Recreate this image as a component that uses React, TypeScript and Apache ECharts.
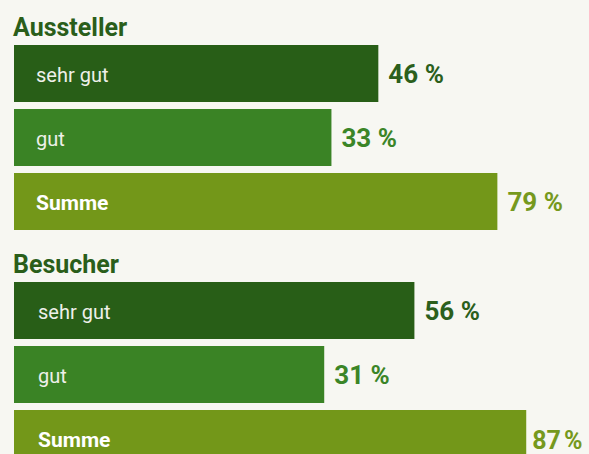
import React, { useEffect, useRef } from "react";
import * as echarts from "echarts";

// ---- data ----
const categories = ["sehr gut", "gut", "Summe"];
const groupTitles = ["Aussteller", "Besucher"];
const ausstellerValues = [46, 33, 79];
const besucherValues = [56, 31, 87];
const valueSuffix = " %";

// axis range: bars begin BASE_OFFSET units left of the zero point
const BASE_OFFSET = 55;
const X_MAX = 104.4;

// ---- styles ----
const BAR_COLORS = ["#285e17", "#3a8325", "#739719"];
const LABEL_COLORS = ["#2b5f1c", "#3b8527", "#76991d"];
const TITLE_COLOR = "#2a5e1a";
const BG = "#f7f7f2";
const BAR_HEIGHT = 57;
const FONT = "Roboto, 'Noto Sans', sans-serif";
const CHART_W = 589;
const CHART_H = 480; // taller than the window: the last bar is cut off like the reference

function makeSeries(values: number[], gridIndex: number, labelInset: number, gaps: number[]) {
  return {
    type: "custom",
    xAxisIndex: gridIndex,
    yAxisIndex: gridIndex,
    encode: { x: 0, y: 1 },
    data: values.map((v, i) => [v, i]),
    renderItem: (params: any, api: any) => {
      const v = api.value(0);
      const idx = api.value(1);
      const start = api.coord([-BASE_OFFSET, idx]);
      const end = api.coord([v, idx]);
      const h = BAR_HEIGHT;
      const isSum = idx === 2;
      const gap = gaps[idx];
      const tight = gap < 10;
      return {
        type: "group",
        children: [
          {
            type: "rect",
            shape: { x: start[0], y: start[1] - h / 2, width: end[0] - start[0], height: h },
            style: { fill: BAR_COLORS[idx] },
          },
          {
            type: "text",
            x: start[0] + labelInset,
            y: start[1] + 1,
            style: {
              text: categories[idx],
              fill: isSum ? "#ffffff" : "#eef0ea",
              fontSize: isSum ? 21 : 20,
              fontWeight: isSum ? "bold" : "normal",
              fontFamily: FONT,
              align: "left",
              verticalAlign: "middle",
            },
          },
          {
            type: "text",
            x: end[0] + gap,
            y: start[1] + (tight ? 2 : 0),
            style: {
              text: tight ? `${v}\u202f%` : `${v}${valueSuffix}`,
              fill: LABEL_COLORS[idx],
              fontSize: tight ? 25 : 26,
              fontWeight: "bold",
              fontFamily: FONT,
              align: "left",
              verticalAlign: "middle",
            },
          },
        ],
      };
    },
  };
}

export default function App() {
  const ref = useRef<HTMLDivElement>(null);
  useEffect(() => {
    if (!ref.current) return;
    const chart = echarts.init(ref.current, undefined, { renderer: "svg" });
    const gridTops = [41.5, 278.5];
    chart.setOption({
      animation: false,
      backgroundColor: BG,
      title: groupTitles.map((t, i) => ({
        text: t,
        left: 13,
        top: i === 0 ? 15 : 252,
        padding: 0,
        textStyle: {
          color: TITLE_COLOR,
          fontSize: 25,
          fontWeight: "bold",
          fontFamily: FONT,
          lineHeight: 25,
        },
      })),
      grid: gridTops.map((top) => ({ left: 14, width: 575, top, height: 192 })),
      xAxis: gridTops.map((_, i) => ({
        type: "value",
        gridIndex: i,
        min: -BASE_OFFSET,
        max: X_MAX,
        show: false,
      })),
      yAxis: gridTops.map((_, i) => ({
        type: "category",
        gridIndex: i,
        data: categories,
        inverse: true,
        show: false,
      })),
      series: [
        makeSeries(ausstellerValues, 0, 22, [10, 10, 10]),
        makeSeries(besucherValues, 1, 24, [10, 10, 6]),
      ],
    });
    return () => chart.dispose();
  }, []);
  return (
    <div style={{ position: "fixed", left: 0, top: 0, width: CHART_W, height: 454, overflow: "hidden" }}>
      <div ref={ref} style={{ width: CHART_W, height: CHART_H }} />
    </div>
  );
}
